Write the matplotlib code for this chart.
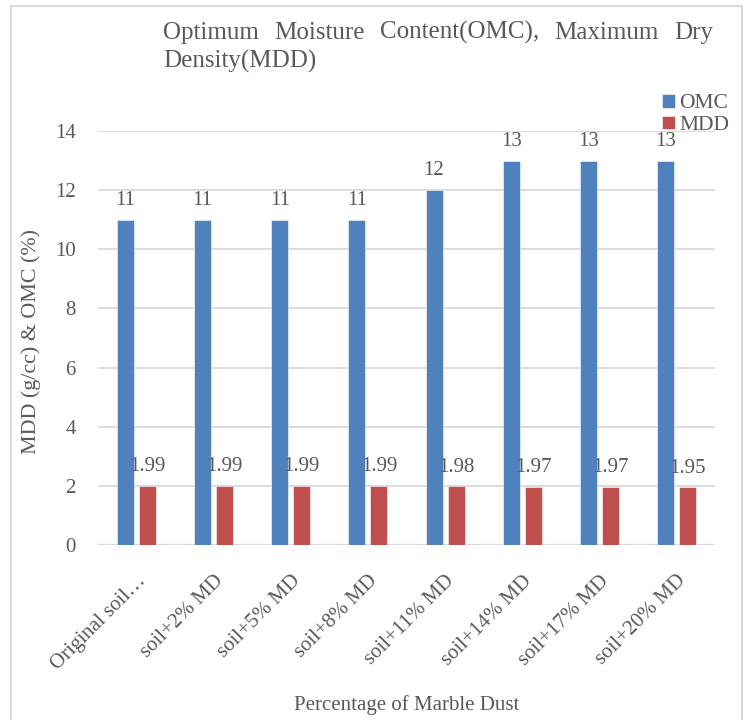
import matplotlib
matplotlib.use('Agg')
import matplotlib.pyplot as plt
from matplotlib.patches import Rectangle
import numpy as np

plt.rcParams['font.family'] = ['Liberation Serif', 'DejaVu Serif']

# data
categories = ['Original soil\u2026', 'soil+2% MD', 'soil+5% MD', 'soil+8% MD',
              'soil+11% MD', 'soil+14% MD', 'soil+17% MD', 'soil+20% MD']
omc = [11, 11, 11, 11, 12, 13, 13, 13]
mdd = [1.99, 1.99, 1.99, 1.99, 1.98, 1.97, 1.97, 1.95]
title_line1 = ['Optimum', 'Moisture', 'Content(OMC),', 'Maximum', 'Dry']
title_line2 = 'Density(MDD)'

W, H = 745, 720
TXT = '#595959'
BLUE = '#4F81BD'
RED = '#C0504D'
GRID = '#D9D9D9'

fig = plt.figure(figsize=(W / 100, H / 100), dpi=100)
fig.patch.set_facecolor('white')

def fx(px):
    return px / W

def fy(py):
    return 1 - py / H

# outer border
fig.patches.append(Rectangle((fx(11), fy(740)), fx(742) - fx(11), fy(6) - fy(740),
                             transform=fig.transFigure, fill=False,
                             edgecolor=GRID, linewidth=1.5))

ax = fig.add_axes([fx(98), fy(545), fx(715) - fx(98), fy(131) - fy(545)])

x = np.arange(len(categories))
bw = 0.22
off = 0.143
b1 = ax.bar(x - off, omc, bw, color=BLUE, edgecolor='white', linewidth=0.4,
            label='OMC', zorder=3)
b2 = ax.bar(x + off, mdd, bw, color=RED, edgecolor='white', linewidth=0.4,
            label='MDD', zorder=3)
ax.bar_label(b1, labels=[f'{v:g}' for v in omc], padding=7, fontsize=15, color=TXT)
ax.bar_label(b2, labels=[f'{v:.2f}' for v in mdd], padding=7, fontsize=15, color=TXT)

ax.set_xlim(-0.5, len(categories) - 0.5)
ax.set_ylim(0, 14)
ax.set_yticks(np.arange(0, 15, 2))
ax.yaxis.grid(True, color=GRID, linewidth=1.3, zorder=0)
ax.set_axisbelow(True)
for s in ax.spines.values():
    s.set_visible(False)
ax.axhline(0, color=GRID, linewidth=1.6, zorder=2)

ax.set_xticks(x)
ax.set_xticklabels(categories, rotation=45, ha='right', va='top',
                   rotation_mode='anchor', fontsize=15, color=TXT)
ax.tick_params(axis='x', length=0, pad=19)
ax.tick_params(axis='y', length=0, pad=16, labelsize=15, labelcolor=TXT)

fig.text(fx(31), fy(342), 'MDD (g/cc) & OMC (%)', rotation=90, ha='center',
         va='center', fontsize=15.8, color=TXT)
fig.text(fx(407), fy(705), 'Percentage of Marble Dust', ha='center',
         va='center', fontsize=15, color=TXT)

# justified title, first line
renderer = fig.canvas.get_renderer()
objs = [fig.text(0, fy(39), w, fontsize=18, color=TXT, va='baseline')
        for w in title_line1]
widths = [o.get_window_extent(renderer).width for o in objs]
left, right = 163, 713
gap = (right - left - sum(widths)) / (len(objs) - 1)
pos = left
for o, w in zip(objs, widths):
    o.set_x(fx(pos))
    pos += w + gap
fig.text(fx(left), fy(68), title_line2, fontsize=18, color=TXT, va='baseline')

ax.legend(loc='upper left', bbox_to_anchor=(fx(662), fy(94)),
          bbox_transform=fig.transFigure, frameon=False, fontsize=15.5,
          handlelength=0.6, handleheight=0.6, handletextpad=0.2,
          labelspacing=0.1, borderpad=0, borderaxespad=0, labelcolor=TXT)

fig.savefig('out.png', dpi=100)
